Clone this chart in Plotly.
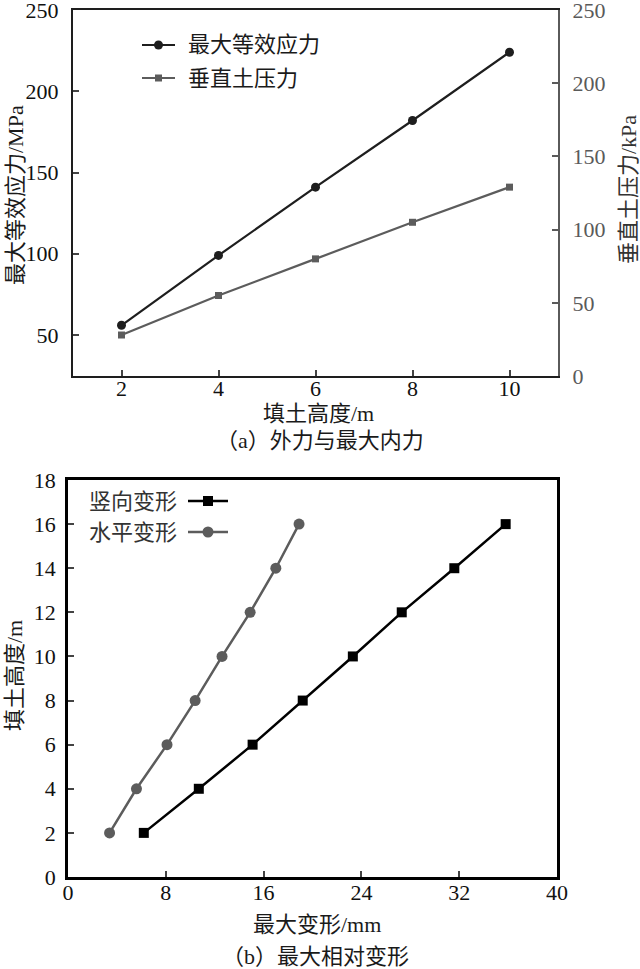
import plotly.graph_objects as go

# ---------------- data ----------------
fill_height_a = [2, 4, 6, 8, 10]
max_stress = [56, 99, 141, 182, 224]          # MPa (left axis)
soil_pressure = [28, 55, 80, 105, 129]        # kPa (right axis)

fill_height_b = [2, 4, 6, 8, 10, 12, 14, 16]
vert_def = [6.2, 10.7, 15.1, 19.2, 23.3, 27.3, 31.6, 35.8]
horiz_def = [3.4, 5.6, 8.1, 10.4, 12.6, 14.9, 17.0, 18.9]

x_ticks_a = [2, 4, 6, 8, 10]
y_ticks_a = [50, 100, 150, 200, 250]
y2_ticks_a = [0, 50, 100, 150, 200, 250]
x_ticks_b = [0, 8, 16, 24, 32, 40]
y_ticks_b = [0, 2, 4, 6, 8, 10, 12, 14, 16, 18]

W, H = 640, 969
FONT = "Liberation Serif, Noto Sans CJK SC, serif"
BLACK = "#1e1e1e"
GRAY = "#5c5c5c"
AXGRAY = "#5a5a5a"


def px(x):
    return x / W


def py(y):
    return 1 - y / H


fig = go.Figure()

# ---- (a) ----
fig.add_trace(go.Scatter(x=fill_height_a, y=max_stress, mode="lines+markers",
                         line=dict(color=BLACK, width=2.2),
                         marker=dict(symbol="circle", size=9, color=BLACK),
                         xaxis="x", yaxis="y", showlegend=False))
fig.add_trace(go.Scatter(x=fill_height_a, y=soil_pressure, mode="lines+markers",
                         line=dict(color=GRAY, width=2.2),
                         marker=dict(symbol="square", size=7, color=GRAY),
                         xaxis="x", yaxis="y2", showlegend=False))

# ---- (b) ----
fig.add_trace(go.Scatter(x=vert_def, y=fill_height_b, mode="lines+markers",
                         line=dict(color="#000000", width=2.5),
                         marker=dict(symbol="square", size=10, color="#000000"),
                         xaxis="x3", yaxis="y3", showlegend=False))
fig.add_trace(go.Scatter(x=horiz_def, y=fill_height_b, mode="lines+markers",
                         line=dict(color=GRAY, width=2.5),
                         marker=dict(symbol="circle", size=11, color=GRAY),
                         xaxis="x3", yaxis="y3", showlegend=False))

tickfont = dict(family=FONT, size=22, color="#111111")
common = dict(ticks="inside", ticklen=6, tickwidth=2, showgrid=False,
              zeroline=False, showline=True, tickfont=tickfont,
              automargin=False, ticklabeloverflow="allow")

fig.update_layout(
    width=W, height=H,
    margin=dict(l=0, r=0, t=0, b=0, autoexpand=False),
    paper_bgcolor="white", plot_bgcolor="white",
    font=dict(family=FONT, size=22, color="#111111"),
    xaxis=dict(domain=[px(73), px(558)], range=[1, 11], anchor="y",
               tickvals=x_ticks_a, linecolor=BLACK, linewidth=2, mirror=True,
               ticklabelstandoff=-8, **common),
    yaxis=dict(domain=[py(376), py(10)], range=[24.8, 250], anchor="x",
               tickvals=y_ticks_a, linecolor=BLACK, linewidth=2,
               ticklabelstandoff=8, **common),
    yaxis2=dict(range=[0, 250], overlaying="y", side="right", anchor="x",
                tickvals=y2_ticks_a, linecolor=AXGRAY, linewidth=2,
                tickcolor=AXGRAY, ticks="inside", ticklen=6, tickwidth=2,
                showgrid=False, zeroline=False, showline=True,
                ticklabelstandoff=8, automargin=False,
                ticklabeloverflow="allow",
                tickfont=dict(family=FONT, size=22, color=AXGRAY)),
    xaxis3=dict(domain=[px(68), px(557)], range=[0, 40], anchor="y3",
                tickvals=x_ticks_b, linecolor="#000000", linewidth=2.6,
                mirror=True, ticklabelstandoff=-6, **common),
    yaxis3=dict(domain=[py(877), py(480)], range=[0, 18], anchor="x3",
                tickvals=y_ticks_b, linecolor="#000000", linewidth=2.6,
                mirror=True, ticklabelstandoff=5, **common),
)

ann = []


def text(x, y, s, size=22, color="#1a1a1a", angle=0, xanchor="center"):
    ann.append(dict(x=px(x), y=py(y), xref="paper", yref="paper", text=s,
                    showarrow=False, textangle=angle, xanchor=xanchor,
                    yanchor="middle",
                    font=dict(family=FONT, size=size, color=color)))


# axis titles and captions (a)
text(15, 195, "最大等效应力/MPa", angle=-90)
text(629, 190, "垂直土压力/kPa", angle=-90, color="#333333")
text(318, 413, "填土高度/m")
text(320, 441, "（a）外力与最大内力")
# (b)
text(14, 676, "填土高度/m", angle=-90)
text(317, 924, "最大变形/mm")
text(315, 956, "（b）最大相对变形")

# legends
shapes = []


def legend_sample(x0, x1, y, color, symbol, msize, lw):
    shapes.append(dict(type="line", xref="paper", yref="paper",
                       x0=px(x0), x1=px(x1), y0=py(y), y1=py(y),
                       line=dict(color=color, width=lw)))
    cx = (x0 + x1) / 2
    r = msize / 2
    shapes.append(dict(type="circle" if symbol == "circle" else "rect",
                       xref="paper", yref="paper",
                       xsizemode="pixel", ysizemode="pixel",
                       xanchor=px(cx), yanchor=py(y),
                       x0=-r, x1=r, y0=-r, y1=r,
                       fillcolor=color, line=dict(color=color, width=0)))


legend_sample(142, 175, 45, BLACK, "circle", 9, 2.2)
text(186, 45, "最大等效应力", xanchor="left")
legend_sample(142, 175, 78, GRAY, "square", 7, 2.2)
text(186, 78, "垂直土压力", xanchor="left")

text(87, 501, "竖向变形", xanchor="left", color="#333333")
legend_sample(188, 228, 501, "#000000", "square", 10, 2.5)
text(87, 532, "水平变形", xanchor="left", color="#333333")
legend_sample(188, 228, 532, GRAY, "circle", 11, 2.5)

fig.update_layout(annotations=ann, shapes=shapes)

fig.write_html("out.html")
